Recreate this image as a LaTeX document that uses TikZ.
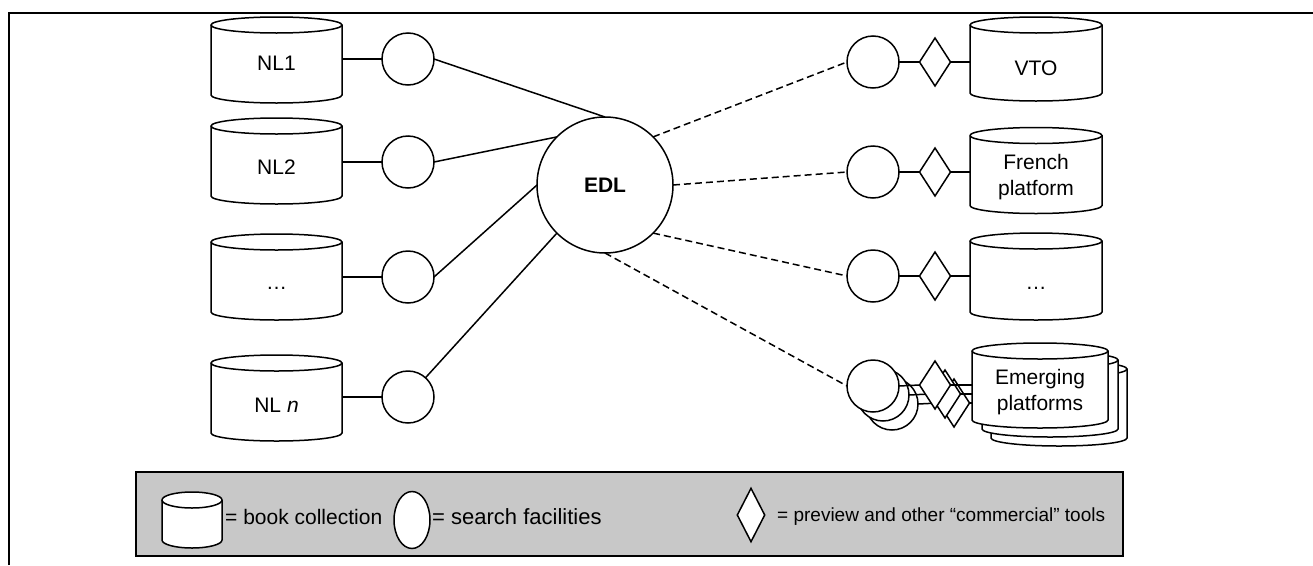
\documentclass[tikz,border=0pt]{standalone}
\usepackage{fontspec}
\setmainfont{Liberation Sans}
\usetikzlibrary{shapes.geometric,calc}

\definecolor{legendgray}{RGB}{200,200,200}

\tikzset{
  shape line/.style={draw=black, line width=1.5pt, fill=white},
  cylbox/.style={draw=none, inner sep=0pt, outer sep=0pt},
  lab/.style={font=\fontsize{21pt}{26pt}\selectfont, align=center, inner sep=0pt},
  legtext/.style={font=\fontsize{21pt}{25pt}\selectfont, anchor=west, inner sep=0pt},
  search/.style={circle, shape line, minimum size=52pt, inner sep=0pt, outer sep=0pt},
  tool/.style={diamond, shape line, minimum width=31pt, minimum height=48pt, inner sep=0pt, outer sep=0pt},
  link/.style={line width=1.5pt},
  feed/.style={line width=1.5pt, dash pattern=on 7pt off 4pt},
}

% book collection drawn as a cylinder: name, centre, width, height, text, text drop
\newcommand\bookcyl[6]{%
  \node[cylbox, minimum width=#3, minimum height=#4] (#1) at (#2) {};
  \path[shape line] ([yshift=-8pt]#1.north west) -- ([yshift=8pt]#1.south west)
    arc[start angle=180, end angle=360, x radius=0.5*#3, y radius=8pt]
    -- ([yshift=-8pt]#1.north east)
    arc[start angle=0, end angle=180, x radius=0.5*#3, y radius=8pt] -- cycle;
  \draw[shape line, fill=none] ([yshift=-8pt]#1.north west)
    arc[start angle=180, end angle=360, x radius=0.5*#3, y radius=8pt];
  \node[lab] (#1-t) at ([yshift=-#6]#1.center) {#5};}

\begin{document}
\begin{tikzpicture}[x=1pt, y=1pt]
\useasboundingbox (0,0) rectangle (1313,-565);

% frame
\draw[line width=2pt] (9,-565) -- (9,-13) -- (1313,-13);

% national libraries
\bookcyl{L1}{276.5,-60}{131pt}{86pt}{NL1}{3pt}
\bookcyl{L2}{276.5,-161}{131pt}{86pt}{NL2}{6pt}
\bookcyl{L3}{276.5,-277}{131pt}{86pt}{\dots}{11pt}
\bookcyl{L4}{276.5,-398}{131pt}{86pt}{NL \textit{n}}{7pt}

\node[search] (S1) at (408,-59) {};
\node[search] (S2) at (408,-162) {};
\node[search] (S3) at (408,-277) {};
\node[search] (S4) at (408,-397) {};

\foreach \i in {1,...,4}
  \draw[link] (S\i.west -| L\i.east) -- (S\i.west);

% central portal
\node[circle, shape line, minimum size=136pt, inner sep=0pt, outer sep=0pt,
      font=\fontsize{21pt}{25pt}\selectfont\bfseries] (EDL) at (605,-185) {EDL};

\draw[link] (S1.east) -- (EDL.90);
\draw[link] (S2.east) -- (EDL.135);
\draw[link] (S3.east) -- (EDL.180);
\draw[link] (S4) -- (EDL.225);

% platforms on the right
\bookcyl{R1}{1036,-59}{132pt}{84pt}{VTO}{9pt}
\bookcyl{R2}{1036,-170.5}{132pt}{86pt}{French\\platform}{7pt}
\bookcyl{R3}{1036,-276.5}{132pt}{87pt}{\dots}{12pt}

\node[search] (P1) at (873,-62) {};
\node[search] (P2) at (873,-172) {};
\node[search] (P3) at (873,-276) {};
\node[tool] (D1) at (935,-62) {};
\node[tool] (D2) at (935,-172) {};
\node[tool] (D3) at (935,-276) {};

\foreach \i in {1,2,3}{
  \draw[link] (P\i.east) -- (D\i.west);
  \draw[link] (D\i.east) -- (D\i.east -| R\i.west);
}

% stacked emerging platforms, back to front
\node[search] (P4c) at (892,-404) {};
\node[tool] (D4c) at (954,-403) {};
\bookcyl{R4c}{1059,-403.5}{136pt}{85pt}{}{0pt}
\draw[link] (P4c.east) -- (D4c.west);
\draw[link] (D4c.east) -- (D4c.east -| R4c.west);

\node[search] (P4b) at (883,-395) {};
\node[tool] (D4b) at (945,-394) {};
\bookcyl{R4b}{1050,-394.5}{136pt}{85pt}{}{0pt}
\draw[link] (P4b.east) -- (D4b.west);
\draw[link] (D4b.east) -- (D4b.east -| R4b.west);

\node[search] (P4) at (873,-386) {};
\node[tool] (D4) at (935,-385) {};
\bookcyl{R4}{1040,-385.5}{136pt}{85pt}{Emerging\\platforms}{7pt}
\draw[link] (P4.east) -- (D4.west);
\draw[link] (D4.east) -- (D4.east -| R4.west);

\draw[feed] (EDL.45) -- (P1.west);
\draw[feed] (EDL.0) -- (P2.west);
\draw[feed] (EDL.-45) -- (P3.west);
\draw[feed] (EDL.-90) -- (P4.west);

% legend
\node[draw=black, line width=1.5pt, fill=legendgray, minimum width=987pt,
      minimum height=84pt, inner sep=0pt] (legend) at (629.5,-514) {};
\bookcyl{K1}{192,-520}{60pt}{56pt}{}{0pt}
\node[legtext] (K1-l) at (225,-517) {= book collection};
\node[ellipse, shape line, minimum width=36pt, minimum height=57pt, inner sep=0pt] (K2) at (412,-520) {};
\node[legtext, font=\fontsize{22pt}{25pt}\selectfont] (K2-l) at (432,-517) {= search facilities};
\node[diamond, shape line, minimum width=28pt, minimum height=54pt, inner sep=0pt] (K3) at (751,-515) {};
\node[legtext, font=\fontsize{19pt}{25pt}\selectfont] (K3-l) at (777,-517) {= preview and other “commercial” tools};
\end{tikzpicture}
\end{document}
